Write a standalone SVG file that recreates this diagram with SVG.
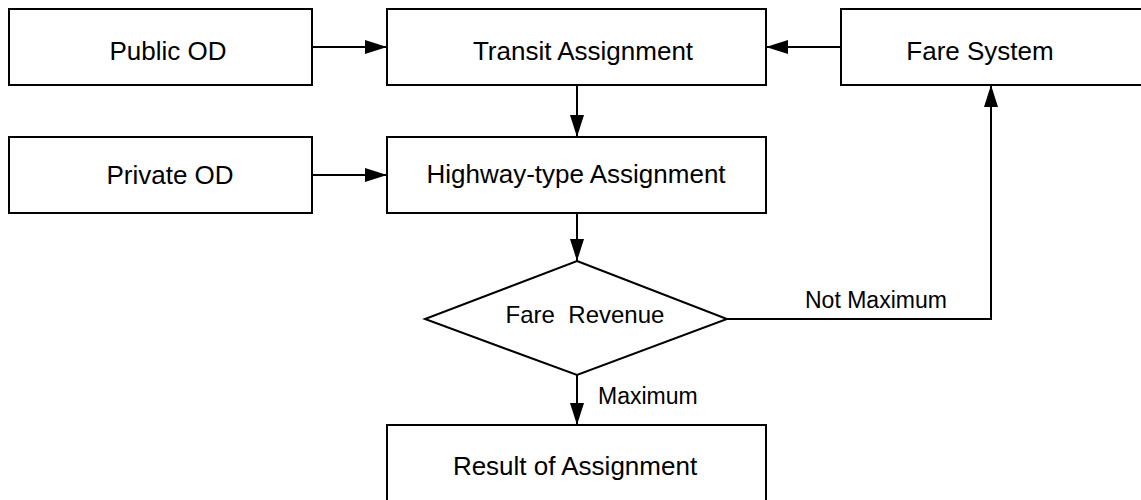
<svg xmlns="http://www.w3.org/2000/svg" width="1141" height="500" viewBox="0 0 1141 500">
  <style>
    .box { fill: #ffffff; stroke: #000000; stroke-width: 2; }
    .lbl { font-family: "Liberation Sans", Arial, sans-serif; font-size: 26px; fill: #000000; text-anchor: middle; }
    .dec { font-family: "Liberation Sans", Arial, sans-serif; font-size: 24px; fill: #000000; text-anchor: middle; white-space: pre; }
    .note { font-family: "Liberation Sans", Arial, sans-serif; font-size: 23px; fill: #000000; }
    .link { fill: none; stroke: #000000; stroke-width: 2; marker-end: url(#head); }
  </style>
  <defs>
    <marker id="head" markerUnits="userSpaceOnUse" markerWidth="24" markerHeight="14" refX="22" refY="7" orient="auto">
      <path d="M0,0 L22,7 L0,14 Z" fill="#000000"/>
    </marker>
  </defs>
  <rect width="1141" height="500" fill="#ffffff"/>

  <g id="connectors">
    <path class="link" d="M312,47 L387,47"/>
    <path class="link" d="M841,47 L766,47"/>
    <path class="link" d="M577,85 L577,137"/>
    <path class="link" d="M312,175 L387,175"/>
    <path class="link" d="M577,213 L577,261"/>
    <path class="link" d="M727,319 L991,319 L991,85"/>
    <path class="link" d="M577,375 L577,425"/>
    <text class="note" x="805" y="308">Not Maximum</text>
    <text class="note" x="598" y="404">Maximum</text>
  </g>

  <g id="public-od">
    <rect class="box" x="9" y="9" width="303" height="76"/>
    <text class="lbl" x="168" y="60">Public OD</text>
  </g>
  <g id="transit-assignment">
    <rect class="box" x="387" y="9" width="379" height="76"/>
    <text class="lbl" x="583" y="60">Transit Assignment</text>
  </g>
  <g id="fare-system">
    <rect class="box" x="841" y="9" width="302" height="76"/>
    <text class="lbl" x="980" y="60">Fare System</text>
  </g>
  <g id="private-od">
    <rect class="box" x="9" y="137" width="303" height="76"/>
    <text class="lbl" x="170" y="184">Private OD</text>
  </g>
  <g id="highway-assignment">
    <rect class="box" x="387" y="137" width="379" height="76"/>
    <text class="lbl" x="576" y="183">Highway-type Assignment</text>
  </g>
  <g id="fare-revenue">
    <polygon class="box" points="577,261 727,319 577,375 425,319"/>
    <text class="dec" x="585" y="323">Fare  Revenue</text>
  </g>
  <g id="result">
    <rect class="box" x="387" y="425" width="379" height="77"/>
    <text class="lbl" x="575" y="475">Result of Assignment</text>
  </g>
</svg>
